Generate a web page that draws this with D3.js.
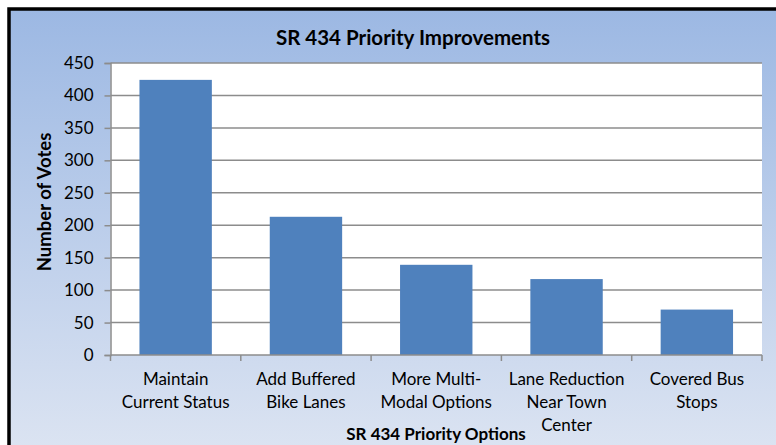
<!DOCTYPE html>
<html>
<head>
<meta charset="utf-8">
<script src="https://cdn.jsdelivr.net/npm/d3@7"></script>
<style>
  html, body { margin: 0; padding: 0; background: #ffffff; }
  svg { display: block; }
  text { font-family: Lato, "Open Sans", sans-serif; fill: #000; }
</style>
</head>
<body>
<svg id="chart" width="776" height="445"></svg>
<script>
const categories = [
  ["Maintain", "Current Status"],
  ["Add Buffered", "Bike Lanes"],
  ["More Multi-", "Modal Options"],
  ["Lane Reduction", "Near Town", "Center"],
  ["Covered Bus", "Stops"]
];
const votes = [424, 213, 139, 117, 70];
const yTicks = [0, 50, 100, 150, 200, 250, 300, 350, 400, 450];
const chartTitle = "SR 434 Priority Improvements";
const xTitle = "SR 434 Priority Options";
const yTitle = "Number of Votes";

const svg = d3.select("#chart");
const W = 776, H = 445;

const defs = svg.append("defs");
const grad = defs.append("linearGradient").attr("id", "bg").attr("x1", 0).attr("y1", 0).attr("x2", 0).attr("y2", 1);
grad.append("stop").attr("offset", "0%").attr("stop-color", "#9cb8e3");
grad.append("stop").attr("offset", "100%").attr("stop-color", "#dce4f2");

svg.append("rect").attr("x", 9).attr("y", 9).attr("width", W).attr("height", H)
  .attr("fill", "url(#bg)").attr("stroke", "#000").attr("stroke-width", 3.5);

const plot = { left: 110.5, right: 762, top: 63, bottom: 355 };

const x = d3.scaleBand()
  .domain(d3.range(categories.length))
  .range([plot.left, plot.right])
  .paddingInner(0.4444)
  .paddingOuter(0.2222);
const xb = d3.scaleBand().domain(d3.range(categories.length)).range([plot.left, plot.right]).padding(0);

const y = d3.scaleLinear().domain([0, 450]).range([plot.bottom, plot.top]);

svg.append("rect").attr("x", plot.left).attr("y", plot.top)
  .attr("width", plot.right - plot.left).attr("height", plot.bottom - plot.top).attr("fill", "#fff");

svg.append("g").selectAll("line").data(yTicks.filter(d => d > 0)).join("line")
  .attr("x1", plot.left).attr("x2", plot.right)
  .attr("y1", d => y(d)).attr("y2", d => y(d))
  .attr("stroke", "#8c8c8c").attr("stroke-width", 1.5);

const yAxis = d3.axisLeft(y).tickValues(yTicks).tickSize(6).tickPadding(11);
const gy = svg.append("g").attr("transform", `translate(${plot.left},0)`).call(yAxis);
gy.select(".domain").attr("stroke", "#8c8c8c").attr("stroke-width", 1.5);
gy.selectAll(".tick line").attr("stroke", "#8c8c8c").attr("stroke-width", 1.5);
gy.selectAll(".tick text").style("font-family", "Lato, sans-serif").style("font-size", "17px").attr("fill", "#000");

svg.append("g").selectAll("rect").data(votes).join("rect")
  .attr("x", (d, i) => x(i)).attr("width", x.bandwidth())
  .attr("y", d => y(d)).attr("height", d => y(0) - y(d))
  .attr("fill", "#4f81bd");

svg.append("line").attr("x1", plot.left).attr("x2", plot.right)
  .attr("y1", plot.bottom).attr("y2", plot.bottom)
  .attr("stroke", "#8c8c8c").attr("stroke-width", 1.5);
const bounds = d3.range(categories.length + 1).map(i => i < categories.length ? xb(i) : plot.right);
svg.append("g").selectAll("line").data(bounds).join("line")
  .attr("x1", d => d).attr("x2", d => d)
  .attr("y1", plot.bottom).attr("y2", plot.bottom + 6)
  .attr("stroke", "#8c8c8c").attr("stroke-width", 1.5);

const labels = svg.append("g").selectAll("text").data(categories).join("text")
  .attr("text-anchor", "middle")
  .style("font-size", "17px")
  .attr("transform", (d, i) => `translate(${xb(i) + xb.bandwidth() / 2},385)`);
labels.selectAll("tspan").data(d => d).join("tspan")
  .attr("x", 0).attr("y", (d, j) => j * 23).text(d => d);

svg.append("text").attr("x", 413).attr("y", 45).attr("text-anchor", "middle")
  .style("font-size", "20.5px").style("font-weight", "bold").text(chartTitle);
svg.append("text").attr("x", 436).attr("y", 439.5).attr("text-anchor", "middle")
  .style("font-size", "17px").style("font-weight", "bold").text(xTitle);
svg.append("text").attr("transform", "translate(51,202) rotate(-90)").attr("text-anchor", "middle")
  .style("font-size", "18.5px").style("font-weight", "bold").text(yTitle);
</script>
</body>
</html>
